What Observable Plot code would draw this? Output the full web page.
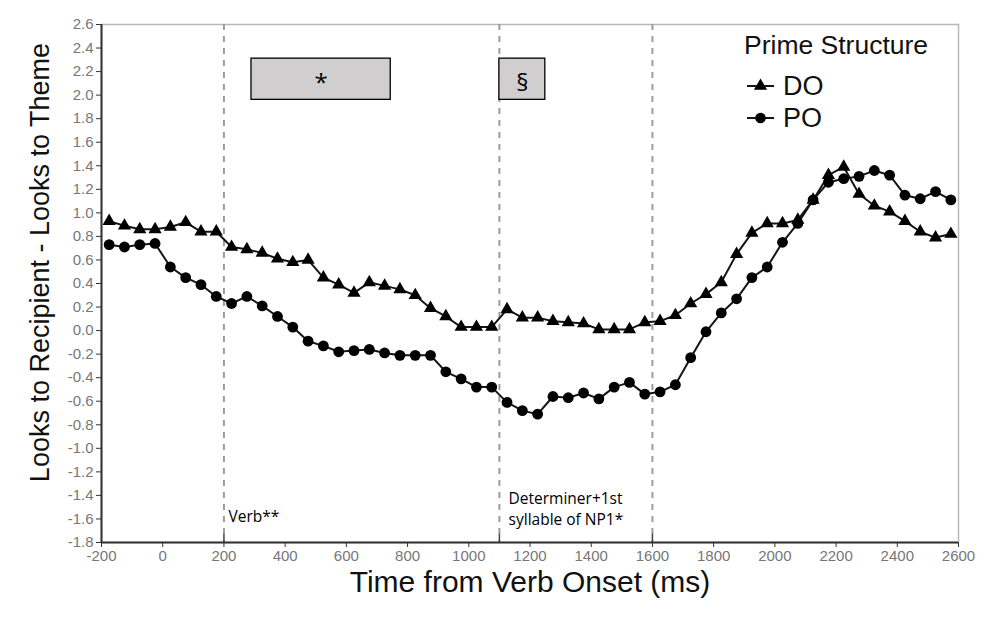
<!DOCTYPE html>
<html>
<head>
<meta charset="utf-8">
<script src="https://cdn.jsdelivr.net/npm/d3@7"></script>
<script src="https://cdn.jsdelivr.net/npm/@observablehq/plot@0.6"></script>
<style>
  html, body { margin: 0; padding: 0; background: #fff; }
  #wrap { position: relative; width: 985px; height: 622px; overflow: hidden; }
  #legend { position: absolute; left: 740px; top: 29px; font-family: "Liberation Sans", Arial, sans-serif; color: #111; }
</style>
</head>
<body>
<div id="wrap"><div id="chart"></div><div id="legend"></div></div>
<script>
// ---- data ----
const times = [-175,-125,-75,-25,25,75,125,175,225,275,325,375,425,475,525,575,625,675,725,775,825,875,925,975,1025,1075,1125,1175,1225,1275,1325,1375,1425,1475,1525,1575,1625,1675,1725,1775,1825,1875,1925,1975,2025,2075,2125,2175,2225,2275,2325,2375,2425,2475,2525,2575];
const doValues = [0.93,0.89,0.86,0.86,0.88,0.92,0.84,0.84,0.71,0.69,0.66,0.61,0.58,0.60,0.45,0.39,0.32,0.41,0.38,0.35,0.30,0.19,0.12,0.03,0.03,0.03,0.18,0.11,0.11,0.08,0.07,0.06,0.01,0.01,0.01,0.07,0.08,0.13,0.23,0.31,0.41,0.65,0.83,0.91,0.91,0.94,1.11,1.32,1.39,1.16,1.06,1.01,0.93,0.84,0.79,0.82];
const poValues = [0.73,0.71,0.73,0.74,0.54,0.45,0.39,0.29,0.23,0.29,0.21,0.12,0.03,-0.09,-0.13,-0.18,-0.17,-0.16,-0.19,-0.21,-0.21,-0.21,-0.35,-0.41,-0.48,-0.48,-0.61,-0.68,-0.71,-0.56,-0.57,-0.53,-0.58,-0.48,-0.44,-0.54,-0.52,-0.46,-0.23,-0.01,0.15,0.27,0.45,0.54,0.75,0.91,1.11,1.26,1.29,1.31,1.36,1.32,1.15,1.12,1.18,1.11];
const seriesNames = ["DO", "PO"];
const xTicks = [-200,0,200,400,600,800,1000,1200,1400,1600,1800,2000,2200,2400,2600];
const yTicks = [-1.8,-1.6,-1.4,-1.2,-1.0,-0.8,-0.6,-0.4,-0.2,0.0,0.2,0.4,0.6,0.8,1.0,1.2,1.4,1.6,1.8,2.0,2.2,2.4,2.6];
const eventTimes = [200, 1100, 1600];
const windowStarts = [290, 1100];
const windowEnds = [745, 1250];
const windowLabels = ["*", "§"];
const eventLabels = ["Verb**", "Determiner+1st\nsyllable of NP1*"];
const eventLabelTimes = [215, 1130];
const xTitle = "Time from Verb Onset (ms)";
const yTitle = "Looks to Recipient - Looks to Theme";
const legendTitle = "Prime Structure";

// ---- build tables ----
const doRows = times.map((t, i) => ({t, v: doValues[i], s: seriesNames[0]}));
const poRows = times.map((t, i) => ({t, v: poValues[i], s: seriesNames[1]}));
const windows = windowStarts.map((s, i) => ({start: s, end: windowEnds[i], label: windowLabels[i]}));
const labels = eventLabels.map((txt, i) => ({t: eventLabelTimes[i], txt}));
const xDom = [xTicks[0], xTicks[xTicks.length - 1]];
const yDom = [yTicks[0], yTicks[yTicks.length - 1]];
const annFont = "'Open Sans', 'Noto Sans', sans-serif";

const chart = Plot.plot({
  width: 985,
  height: 622,
  marginLeft: 101,
  marginRight: 27,
  marginTop: 24,
  marginBottom: 80,
  x: {domain: xDom},
  y: {domain: yDom},
  style: {fontFamily: "'Liberation Sans', Arial, sans-serif", fontSize: "15px", background: "white", overflow: "visible"},
  marks: [
    Plot.frame({stroke: "#b8b8b8", strokeWidth: 1.5}),
    Plot.ruleX(eventTimes, {stroke: "#9c9c9c", strokeWidth: 2, strokeDasharray: "6,6"}),
    Plot.ruleX(eventTimes, {y1: yDom[0], y2: yDom[0] + 0.07, stroke: "#444", strokeWidth: 1.5}),
    Plot.rect(windows, {x1: "start", x2: "end", y1: 1.96, y2: 2.31, fill: "#d0cece", stroke: "#000", strokeWidth: 1.3}),
    Plot.text(windows, {x: d => (d.start + d.end) / 2, y: 2.135, text: "label", fontSize: 24, fill: "#000",
      fontFamily: annFont, dy: 4}),
    Plot.axisX({ticks: xTicks, tickSize: 5, tickPadding: 3, fontSize: 15, fill: "#777", stroke: "#333",
      tickFormat: d => String(d), label: null}),
    Plot.axisY({ticks: yTicks, tickSize: 5, tickPadding: 3, fontSize: 15, fill: "#777", stroke: "#333",
      tickFormat: d => d.toFixed(1), label: null}),
    Plot.ruleY([yDom[0]], {stroke: "#333", strokeWidth: 2}),
    Plot.ruleX([xDom[0]], {stroke: "#333", strokeWidth: 2}),
    Plot.line(doRows, {x: "t", y: "v", stroke: "#151515", strokeWidth: 2}),
    Plot.line(poRows, {x: "t", y: "v", stroke: "#151515", strokeWidth: 2}),
    Plot.dot(doRows, {x: "t", y: "v", symbol: "triangle", r: 4.9, fill: "#000", stroke: "none"}),
    Plot.dot(poRows, {x: "t", y: "v", symbol: "circle", r: 5.4, fill: "#000", stroke: "none"}),
    Plot.text(labels.slice(0, 1), {x: "t", y: -1.585, text: "txt", textAnchor: "start", fontSize: 15.5, fill: "#000",
      fontFamily: annFont}),
    Plot.text(labels.slice(1), {x: "t", y: -1.505, text: "txt", textAnchor: "start", fontSize: 15.5, lineHeight: 1.35, fill: "#000",
      fontFamily: annFont}),
    Plot.text([xTitle], {frameAnchor: "bottom", lineAnchor: "middle", textAnchor: "middle", dy: 40, fontSize: 30, fill: "#111"}),
    Plot.text([yTitle], {frameAnchor: "left", textAnchor: "middle", lineAnchor: "middle", dx: -61, dy: -21, rotate: -90, fontSize: 27, fill: "#111"})
  ]
});
document.getElementById("chart").appendChild(chart);

// ---- legend ----
const lg = d3.select("#legend");
lg.append("div").text(legendTitle).style("font-size", "26.5px").style("line-height", "32px").style("margin-left", "4px");
const items = [{name: seriesNames[0], sym: d3.symbolTriangle, size: 75}, {name: seriesNames[1], sym: d3.symbolCircle, size: 88}];
items.forEach((it, i) => {
  const row = lg.append("div").style("display", "flex").style("align-items", "center").style("height", "32px")
    .style("margin-top", i === 0 ? "9px" : "0px");
  const s = row.append("svg").attr("width", 40).attr("height", 30);
  s.append("line").attr("x1", 7).attr("x2", 34).attr("y1", 15).attr("y2", 15).attr("stroke", "#151515").attr("stroke-width", 2);
  s.append("path").attr("d", d3.symbol(it.sym, it.size)()).attr("transform", "translate(20.5,15)").attr("fill", "#000");
  row.append("span").text(it.name).style("font-size", "27px").style("margin-left", "3px");
});
</script>
</body>
</html>
